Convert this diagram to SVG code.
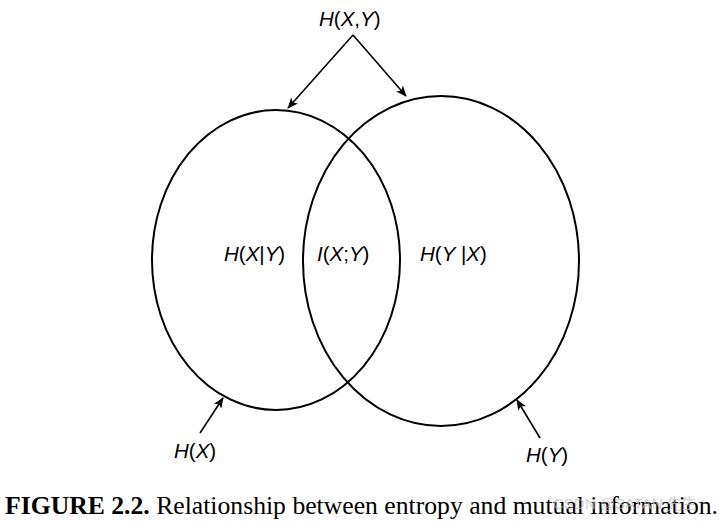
<svg xmlns="http://www.w3.org/2000/svg" width="725" height="524" viewBox="0 0 725 524">
<style>
.lbl{font-family:"Liberation Sans",Arial,sans-serif;font-size:20.5px;fill:#000}
.it{font-style:italic}
.cap{font-family:"Liberation Serif","Times New Roman",serif;font-size:25.5px;fill:#000}
.set{fill:none;stroke:#000;stroke-width:2}
.con{fill:none;stroke:#000;stroke-width:1.6;marker-end:url(#ah)}
</style>
<defs>
<marker id="ah" viewBox="0 0 12 10" refX="11" refY="5" markerWidth="12" markerHeight="9" markerUnits="userSpaceOnUse" orient="auto">
<path d="M0,0 L12,5 L0,10 L3,5 Z" fill="#000"/>
</marker>
</defs>
<rect width="725" height="524" fill="#fff"/>
<g id="setX"><ellipse class="set" cx="276" cy="260" rx="124" ry="150"/></g>
<g id="setY"><ellipse class="set" cx="441" cy="261" rx="138" ry="165"/></g>
<g id="connectors">
<line class="con" x1="353" y1="35" x2="288" y2="108"/>
<line class="con" x1="353" y1="35" x2="406" y2="96"/>
<line class="con" x1="200" y1="433" x2="223" y2="398"/>
<line class="con" x1="540" y1="438" x2="517" y2="400"/>
</g>
<g id="HXY"><text class="lbl" x="319" y="26"><tspan class="it">H</tspan>(<tspan class="it">X</tspan>,<tspan class="it">Y</tspan>)</text></g>
<g id="HXgY"><text class="lbl" x="224" y="261"><tspan class="it">H</tspan>(<tspan class="it">X</tspan>|<tspan class="it">Y</tspan>)</text></g>
<g id="IXY"><text class="lbl" x="317" y="261"><tspan class="it">I</tspan>(<tspan class="it">X</tspan>;<tspan class="it">Y</tspan>)</text></g>
<g id="HYgX"><text class="lbl" x="420" y="261"><tspan class="it">H</tspan>(<tspan class="it">Y</tspan> |<tspan class="it">X</tspan>)</text></g>
<g id="HX"><text class="lbl" x="174" y="458"><tspan class="it">H</tspan>(<tspan class="it">X</tspan>)</text></g>
<g id="HY"><text class="lbl" x="526" y="462"><tspan class="it">H</tspan>(<tspan class="it">Y</tspan>)</text></g>
<g id="caption"><text class="cap" x="5" y="514" textLength="713" lengthAdjust="spacingAndGlyphs"><tspan font-weight="bold">FIGURE 2.2.</tspan> Relationship between entropy and mutual information.</text></g>
<text x="553" y="509" font-family="Liberation Sans,'Noto Sans CJK SC',sans-serif" font-size="15" fill="#bbb" fill-opacity="0.7">CSDN @SATAN 先生</text>
</svg>
